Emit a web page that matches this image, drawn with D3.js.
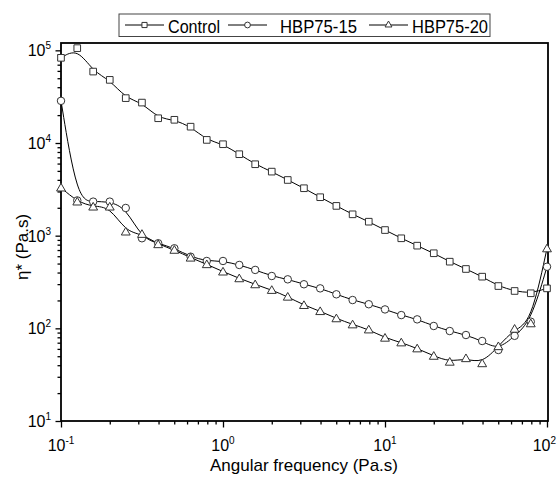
<!DOCTYPE html>
<html>
<head>
<meta charset="utf-8">
<script src="https://cdn.jsdelivr.net/npm/d3@7/dist/d3.min.js"></script>
<style>
  body { margin: 0; background: #fff; }
  text { font-family: "Liberation Sans", Arial, sans-serif; fill: #000; }
</style>
</head>
<body>
<div class="canvas"></div>
<script>
// data
const freq = [0.1, 0.126, 0.158, 0.2, 0.251, 0.316, 0.398, 0.501, 0.631, 0.794,
  1, 1.26, 1.58, 2, 2.51, 3.16, 3.98, 5.01, 6.31, 7.94,
  10, 12.6, 15.8, 20, 25.1, 31.6, 39.8, 50.1, 63.1, 79.4, 100];

const control = [83000, 105600, 59000, 48000, 30500, 27300, 18500, 17800, 15000, 10800,
  9700, 7570, 5900, 4910, 3990, 3250, 2600, 2095, 1700, 1415,
  1150, 937, 780, 646, 524, 437, 361, 286, 253, 239, 270];

const hbp15 = [28500, 2400, 2330, 2330, 1990, 938, 828, 731, 593, 533,
  533, 483, 427, 367, 338, 299, 270, 233, 202, 182,
  160, 139, 125, 106, 93.5, 84.7, 73, 58.4, 83, 118, 462];

const hbp20 = [3300, 2330, 2055, 2055, 1105, 1042, 807, 702, 578, 491,
  409, 346, 298, 259, 219, 178, 153, 128, 110, 97,
  79, 70.3, 60.6, 50.4, 43.5, 47.5, 41.9, 64, 98.7, 113, 728];

const seriesNames = ["Control", "HBP75-15", "HBP75-20"];
const xMajor = [0.1, 1, 10, 100];
const xExp = ["-1", "0", "1", "2"];
const yMajor = [10, 100, 1000, 10000, 100000];
const yExp = ["1", "2", "3", "4", "5"];

const width = 557, height = 481;
const pLeft = 61, pRight = 547, pTop = 43, pBottom = 421;

const svg = d3.select(".canvas").append("svg")
  .attr("width", width)
  .attr("height", height);

const x = d3.scaleLog().domain([0.1, 100]).range([pLeft, pRight]);
const y = d3.scaleLog().domain([10, 120000]).range([pBottom, pTop]);

// minor ticks: 2..9 of each decade
const minorOf = (lo, hi) => {
  const out = [];
  for (let d = lo; d < hi; d *= 10)
    for (let k = 2; k <= 9; k++) if (d * k <= hi) out.push(d * k);
  return out;
};

// axes
const xMinorAxis = d3.axisBottom(x).tickValues(minorOf(0.1, 100)).tickSize(3.5).tickFormat("").tickSizeOuter(0);
const xMajorAxis = d3.axisBottom(x).tickValues(xMajor).tickSize(6.5).tickFormat("").tickSizeOuter(0);
const yMinorAxis = d3.axisLeft(y).tickValues(minorOf(10, 120000)).tickSize(3.5).tickFormat("").tickSizeOuter(0);
const yMajorAxis = d3.axisLeft(y).tickValues(yMajor).tickSize(5.5).tickFormat("").tickSizeOuter(0);

[xMinorAxis, xMajorAxis].forEach((a) => {
  svg.append("g").attr("transform", `translate(0,${pBottom})`).call(a)
    .call((g) => g.select(".domain").remove())
    .selectAll("line").attr("stroke", "#000").attr("stroke-width", 1.3);
});
[yMinorAxis, yMajorAxis].forEach((a) => {
  svg.append("g").attr("transform", `translate(${pLeft},0)`).call(a)
    .call((g) => g.select(".domain").remove())
    .selectAll("line").attr("stroke", "#000").attr("stroke-width", 1.3);
});

// frame
svg.append("rect")
  .attr("x", pLeft)
  .attr("y", pTop)
  .attr("width", x(100) - pLeft + 1)
  .attr("height", pBottom - pTop)
  .attr("fill", "none")
  .attr("stroke", "#000")
  .attr("stroke-width", 1.8);

// tick labels (last one kept inside the page)
const xLab = svg.append("g").selectAll("text").data(xMajor).enter().append("text")
  .attr("x", (d, i) => (i === xMajor.length - 1 ? width - 1 : x(d)))
  .attr("y", 451)
  .attr("text-anchor", (d, i) => (i === xMajor.length - 1 ? "end" : "middle"))
  .style("font-size", "16px");
xLab.append("tspan").text("10");
xLab.append("tspan").attr("dy", -7).style("font-size", "10px").text((d, i) => xExp[i]);

const yLab = svg.append("g").selectAll("text").data(yMajor).enter().append("text")
  .attr("x", 51)
  .attr("y", (d) => y(d) + 6)
  .attr("text-anchor", "end")
  .style("font-size", "16px");
yLab.append("tspan").text("10");
yLab.append("tspan").attr("dy", -7).style("font-size", "10px").text((d, i) => yExp[i]);

// axis titles
svg.append("text")
  .attr("x", (pLeft + pRight) / 2)
  .attr("y", 471)
  .attr("text-anchor", "middle")
  .style("font-size", "17px")
  .text("Angular frequency (Pa.s)");

svg.append("text")
  .attr("transform", `translate(28,${(pTop + pBottom) / 2 + 15}) rotate(-90)`)
  .attr("text-anchor", "middle")
  .style("font-size", "17px")
  .text("η* (Pa.s)");

// series
const line = d3.line()
  .x((d) => x(d.f))
  .y((d) => y(d.v))
  .curve(d3.curveBasis);

const symbols = [d3.symbolSquare, d3.symbolCircle, d3.symbolTriangle];
const symSize = [44, 44, 34];
const allSeries = [control, hbp15, hbp20].map((vals) => vals.map((v, i) => ({ f: freq[i], v })));

allSeries.forEach((data) => {
  svg.append("path")
    .datum(data)
    .attr("fill", "none")
    .attr("stroke", "#000")
    .attr("stroke-width", 1)
    .attr("d", line);
});

allSeries.forEach((data, s) => {
  svg.append("g").selectAll("path").data(data).enter().append("path")
    .attr("transform", (d) => `translate(${x(d.f)},${y(d.v) + (s === 2 ? 0.8 : 0)})`)
    .attr("d", d3.symbol().type(symbols[s]).size(symSize[s]))
    .attr("fill", "#fff")
    .attr("stroke", "#333")
    .attr("stroke-width", 1);
});

// legend
const legX = [125, 228, 369];
const legText = [168, 280, 412];
const legWidth = [52, 77, 76];
const legend = svg.append("g");
legend.append("rect")
  .attr("x", 119)
  .attr("y", 14)
  .attr("width", 371)
  .attr("height", 22.5)
  .attr("fill", "#fff")
  .attr("stroke", "#444")
  .attr("stroke-width", 1);

seriesNames.forEach((name, i) => {
  legend.append("line")
    .attr("x1", legX[i]).attr("x2", legX[i] + 39)
    .attr("y1", 25).attr("y2", 25)
    .attr("stroke", "#000");
  legend.append("path")
    .attr("transform", `translate(${legX[i] + 19.5},25)`)
    .attr("d", d3.symbol().type(symbols[i]).size(symSize[i] * 0.6))
    .attr("fill", "#fff")
    .attr("stroke", "#333");
  legend.append("text")
    .attr("x", legText[i])
    .attr("y", 32.5)
    .attr("textLength", legWidth[i])
    .attr("lengthAdjust", "spacingAndGlyphs")
    .style("font-size", "18px")
    .text(name);
});
</script>
</body>
</html>
